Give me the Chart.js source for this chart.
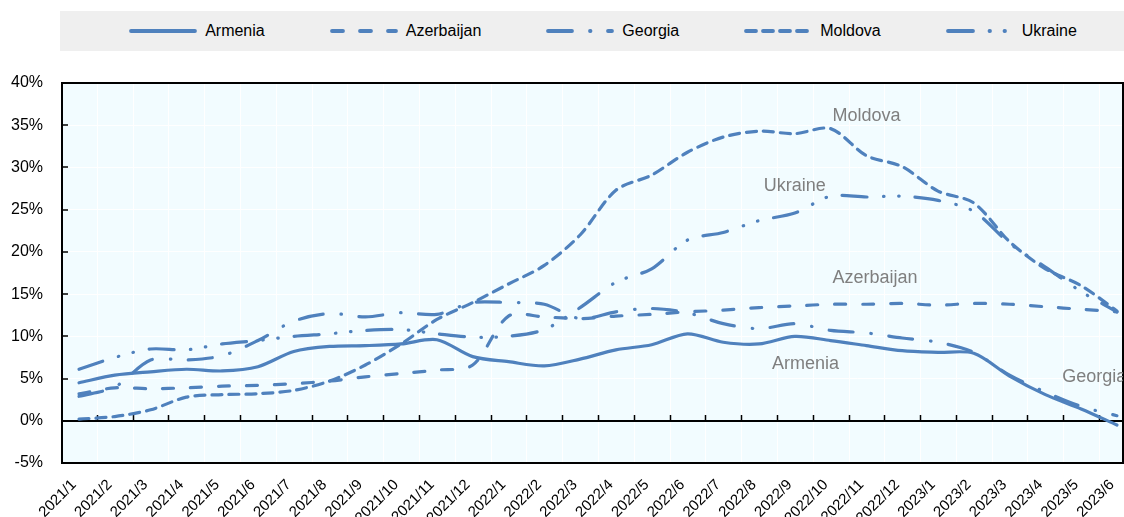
<!DOCTYPE html>
<html>
<head>
<meta charset="utf-8">
<script src="https://cdn.jsdelivr.net/npm/chart.js@4"></script>
<style>
  body { margin: 0; background: #fff; font-family: "Liberation Sans", Arial, sans-serif; }
  #wrap { position: relative; width: 1124px; height: 517px; }
  #grafico { position: absolute; left: 0; top: 0; }
  #legenda {
    position: absolute; left: 60px; top: 11px; width: 1064px; height: 40px;
    background: #efefef; display: flex; align-items: center; justify-content: center;
    padding-left: 22px; box-sizing: border-box; z-index: 2;
  }
  .item { display: flex; align-items: center; margin: 0 32.5px; font-size: 16px; color: #000; }
  .item svg { margin-right: 8px; }
</style>
</head>
<body>
<div id="wrap">
  <canvas id="grafico" width="1124" height="517"></canvas>
  <div id="legenda"></div>
</div>
<script>
// Meses (eixo x)
const meses = ['2021/1','2021/2','2021/3','2021/4','2021/5','2021/6','2021/7','2021/8','2021/9','2021/10','2021/11','2021/12',
  '2022/1','2022/2','2022/3','2022/4','2022/5','2022/6','2022/7','2022/8','2022/9','2022/10','2022/11','2022/12',
  '2023/1','2023/2','2023/3','2023/4','2023/5','2023/6'];

// Valores em %
const armenia    = [4.5, 5.4, 5.8, 6.1, 5.9, 6.4, 8.2, 8.8, 8.9, 9.1, 9.6, 7.6, 7.0, 6.5, 7.3, 8.4, 9.0, 10.3, 9.3, 9.1, 10.0, 9.5, 8.9, 8.3, 8.1, 8.0, 5.3, 3.1, 1.4, -0.5];
const azerbaijan = [3.2, 3.9, 3.8, 3.9, 4.1, 4.2, 4.4, 4.7, 5.2, 5.6, 6.0, 6.6, 12.4, 12.3, 12.1, 12.4, 12.6, 12.9, 13.1, 13.4, 13.6, 13.8, 13.8, 13.9, 13.7, 13.9, 13.8, 13.5, 13.2, 12.9];
const georgia    = [2.9, 4.0, 7.2, 7.2, 7.7, 9.5, 11.8, 12.7, 12.3, 12.8, 12.6, 14.0, 14.0, 13.8, 12.1, 12.9, 13.3, 12.8, 11.5, 10.9, 11.5, 10.7, 10.4, 9.8, 9.3, 8.1, 5.4, 3.4, 1.7, 0.6];
const moldova    = [0.2, 0.5, 1.3, 2.8, 3.1, 3.2, 3.6, 4.7, 6.6, 9.1, 12.0, 14.0, 16.2, 18.4, 22.0, 27.3, 29.1, 31.8, 33.6, 34.3, 34.0, 34.6, 31.4, 30.1, 27.2, 25.8, 21.2, 18.0, 16.0, 13.0];
const ukraine    = [6.1, 7.5, 8.5, 8.4, 9.1, 9.5, 10.0, 10.3, 10.7, 10.8, 10.3, 9.9, 10.0, 10.8, 13.4, 16.4, 18.0, 21.4, 22.3, 23.7, 24.6, 26.6, 26.5, 26.6, 26.1, 24.8, 21.0, 18.2, 15.3, 12.9];

const paises = ['Armenia', 'Azerbaijan', 'Georgia', 'Moldova', 'Ukraine'];
const series = [armenia, azerbaijan, georgia, moldova, ukraine];
const tracos = [[], [11, 17], [24, 18, 0.5, 17.5], [10, 7], [25, 16.5, 0.5, 14.5, 0.5, 16]];

// Rótulos dentro do gráfico (posição em índice do mês / valor)
const rotulos = [
  { texto: 'Moldova', x: 22.0, y: 36.1, align: 'center' },
  { texto: 'Ukraine', x: 20.0, y: 27.8, align: 'center' },
  { texto: 'Azerbaijan', x: 22.24, y: 16.9, align: 'center' },
  { texto: 'Armenia', x: 20.3, y: 6.7, align: 'center' },
  { texto: 'Georgia', x: 27.47, y: 5.2, align: 'left' }
];

const fonte = '"Liberation Sans", Arial, sans-serif';
const azul = '#4f81bd';
const desvioRotulo = 0.14; // desloca os rótulos do eixo x um pouco para a esquerda
Chart.defaults.font.family = fonte;

const datasets = paises.map((nome, i) => ({
  label: nome,
  data: series[i].map((v, j) => ({ x: j, y: v })),
  borderColor: azul,
  backgroundColor: azul,
  borderWidth: 3.2,
  borderDash: tracos[i],
  borderCapStyle: 'round',
  borderJoinStyle: 'round',
  pointRadius: 0,
  tension: 0.3,
  fill: false
}));

// Fundo, grade vertical, moldura, marcas e rótulos
const moldura = {
  id: 'moldura',
  beforeDraw(chart) {
    const { ctx, chartArea: a, scales: { x } } = chart;
    ctx.save();
    ctx.fillStyle = '#f2fcff';
    ctx.fillRect(a.left, a.top, a.width, a.height);
    ctx.strokeStyle = '#ffffff';
    ctx.lineWidth = 1;
    ctx.beginPath();
    for (let k = 0; k < meses.length - 1; k++) {
      const px = Math.round(x.getPixelForValue(k + 0.5)) + 0.5;
      ctx.moveTo(px, a.top);
      ctx.lineTo(px, a.bottom);
    }
    ctx.stroke();
    ctx.restore();
  },
  beforeDatasetsDraw(chart) {
    const { ctx, chartArea: a, scales: { x, y } } = chart;
    ctx.save();
    ctx.strokeStyle = '#000';
    ctx.lineWidth = 1.5;
    const y0 = Math.round(y.getPixelForValue(0));
    ctx.beginPath();
    for (let k = 0; k < meses.length - 1; k++) {
      const px = Math.round(x.getPixelForValue(k + 0.5)) + 0.5;
      ctx.moveTo(px, y0 - 6);
      ctx.lineTo(px, y0);
    }
    for (let v = -5; v <= 40; v += 5) {
      const py = Math.round(y.getPixelForValue(v));
      ctx.moveTo(a.left, py);
      ctx.lineTo(a.left + 6, py);
    }
    ctx.stroke();
    ctx.lineWidth = 2;
    ctx.strokeRect(a.left, a.top, a.width, a.height);
    ctx.restore();
  },
  afterDatasetsDraw(chart) {
    const { ctx, chartArea: a, scales: { x, y } } = chart;
    ctx.save();
    ctx.beginPath();
    ctx.rect(a.left, a.top, a.width, a.height);
    ctx.clip();
    ctx.fillStyle = '#7f7f7f';
    ctx.font = '18px ' + fonte;
    ctx.textBaseline = 'middle';
    rotulos.forEach(r => {
      ctx.textAlign = r.align;
      ctx.fillText(r.texto, x.getPixelForValue(r.x), y.getPixelForValue(r.y));
    });
    ctx.restore();
  }
};

new Chart(document.getElementById('grafico'), {
  type: 'line',
  data: { datasets },
  plugins: [moldura],
  options: {
    responsive: false,
    animation: false,
    devicePixelRatio: 1,
    layout: { padding: { top: 83, right: 1, left: 0, bottom: 0 } },
    plugins: { legend: { display: false }, tooltip: { enabled: false } },
    scales: {
      x: {
        type: 'linear',
        min: -0.475,
        max: 29.169,
        afterBuildTicks: s => { s.ticks = meses.map((m, i) => ({ value: i - desvioRotulo })); },
        afterFit: s => { s.height = 54; s.paddingLeft = 0; s.paddingRight = 0; },
        grid: { display: false, drawTicks: false },
        border: { display: false },
        ticks: {
          autoSkip: false,
          minRotation: 45,
          maxRotation: 45,
          padding: 13,
          color: '#000',
          font: { size: 15 },
          callback: v => meses[Math.round(v)]
        }
      },
      y: {
        min: -5,
        max: 40,
        afterFit: s => { s.width = 62; },
        grid: {
          color: c => (c.tick && c.tick.value === 0 ? '#000' : '#ffffff'),
          lineWidth: c => (c.tick && c.tick.value === 0 ? 2 : 1),
          drawTicks: false
        },
        border: { display: false },
        ticks: {
          stepSize: 5,
          padding: 19,
          color: '#000',
          font: { size: 16 },
          callback: v => v + '%'
        }
      }
    }
  }
});

// Legenda em HTML
const legenda = document.getElementById('legenda');
paises.forEach((nome, i) => {
  const item = document.createElement('div');
  item.className = 'item';
  const dash = tracos[i].length ? tracos[i].join(' ') : 'none';
  item.innerHTML = `<svg width="68" height="8"><line x1="2" y1="4" x2="66" y2="4" stroke="${azul}" stroke-width="3.8" stroke-linecap="round" stroke-dasharray="${dash}"/></svg><span>${nome}</span>`;
  legenda.appendChild(item);
});
</script>
</body>
</html>
